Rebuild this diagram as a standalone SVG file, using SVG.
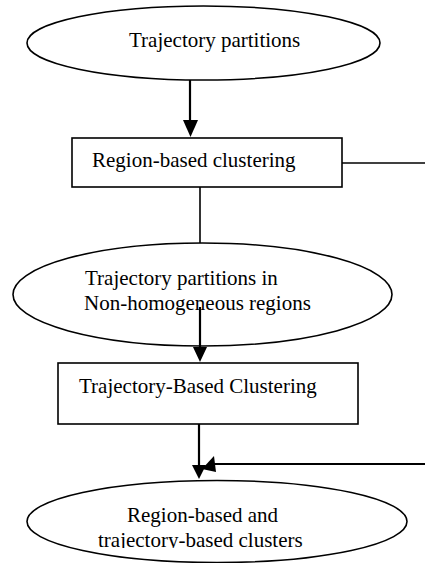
<svg xmlns="http://www.w3.org/2000/svg" width="425" height="563" viewBox="0 0 425 563">
<style>
.shape{fill:#fff;stroke:#000;stroke-width:1.6}
.lbl{font-family:"Liberation Serif","Times New Roman",serif;font-size:21px;fill:#000}
.ln{stroke:#000;stroke-width:1.6;fill:none}
.ar{stroke:#000;stroke-width:2.2;fill:none}
.hd{fill:#000;stroke:none}
</style>
<defs>
<clipPath id="clip3"><rect x="0" y="480" width="425" height="68"/></clipPath>
</defs>
<rect width="425" height="563" fill="#fff"/>
<g id="n1">
<ellipse class="shape" cx="203.5" cy="43" rx="176.5" ry="37"/>
<text class="lbl" x="129" y="47">Trajectory partitions</text>
</g>
<g id="n2">
<rect class="shape" x="72" y="138" width="270" height="49"/>
<text class="lbl" x="92" y="167">Region-based clustering</text>
</g>
<g id="n3">
<ellipse class="shape" cx="202.5" cy="294.5" rx="189.5" ry="51.5"/>
<text class="lbl" x="85" y="285">Trajectory partitions in</text>
<text class="lbl" x="84" y="310">Non-homogeneous regions</text>
</g>
<g id="n4">
<rect class="shape" x="58" y="363" width="300" height="61"/>
<text class="lbl" x="79" y="393">Trajectory-Based Clustering</text>
</g>
<g id="n5">
<ellipse class="shape" cx="217" cy="521.5" rx="190" ry="41"/>
<g clip-path="url(#clip3)">
<text class="lbl" x="127" y="522">Region-based and</text>
<text class="lbl" x="98" y="547">trajectory-based clusters</text>
</g>
</g>
<g id="connectors">
<line class="ar" x1="190" y1="80" x2="190" y2="122"/>
<polygon class="hd" points="183,120 198,120 190.5,137"/>
<line class="ln" x1="342" y1="163" x2="425" y2="163"/>
<line class="ln" x1="200" y1="187" x2="200" y2="243"/>
<line class="ar" x1="200" y1="307" x2="200" y2="349"/>
<polygon class="hd" points="193,347 207,347 200,362"/>
<line class="ar" x1="199" y1="424" x2="199" y2="467"/>
<polygon class="hd" points="192,465 206,465 199,479"/>
<line class="ar" x1="214" y1="464" x2="425" y2="464"/>
<polygon class="hd" points="202,469 214,456 216,472"/>
</g>
</svg>
